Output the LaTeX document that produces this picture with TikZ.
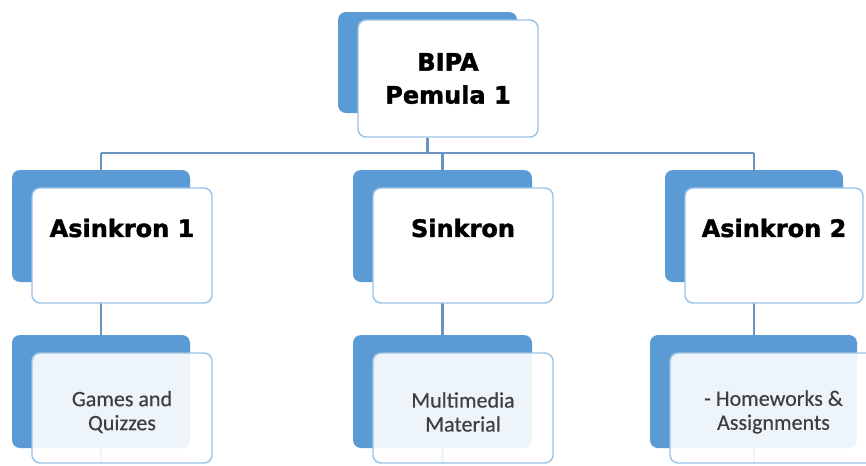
\documentclass[tikz,border=0pt]{standalone}
\usepackage{fontspec}
\usetikzlibrary{calc}
\newfontfamily\headfont{DejaVu Sans}[BoldFeatures={FakeBold=1.6}]
\newfontfamily\bodyfont{Carlito}[FakeBold=0.4]
\definecolor{backblue}{HTML}{5B9BD5}
\definecolor{edgeblue}{HTML}{9DC3E6}
\definecolor{linkblue}{HTML}{6A93C0}
\definecolor{bodygray}{HTML}{3F3F3F}
\begin{document}
\begin{tikzpicture}[x=0.75pt,y=-0.75pt,
  backbox/.style={draw=none,fill=backblue,rounded corners=6pt,inner sep=0pt},
  frontbox/.style={draw=edgeblue,line width=1.1pt,fill=white,rounded corners=6pt,inner sep=0pt},
  softbox/.style={frontbox,fill opacity=0.9},
  headtext/.style={font=\headfont\bfseries\fontsize{18}{24.75}\selectfont,text=black,align=center,inner sep=0pt},
  bodytext/.style={font=\bodyfont\fontsize{16.5}{18}\selectfont,text=bodygray,align=center,inner sep=0pt},
  link/.style={draw=linkblue,line width=1.6pt}]
\useasboundingbox[fill=white] (0,0) rectangle (866,465);

% top
\node[backbox,minimum width=134.25pt,minimum height=75.75pt] (b0) at (427.5,62.5) {};
\node[frontbox,minimum width=135pt,minimum height=87.75pt] (f0) at (448,78.5) {};
\node[headtext] (t0) at (f0.center) {BIPA\\Pemula 1};

% connectors (level 1 to level 2)
\coordinate (h0) at (b0.center |- 0,153);
\coordinate (hl) at (101,153);
\coordinate (hr) at (754,153);
\draw[link] (f0.south -| b0.center) -- (h0);
\draw[link] (hl) -- (hr);

% level 2 back boxes positions
\coordinate (c1) at (101,226);
\coordinate (c2) at (442.5,226);
\coordinate (c3) at (754,226);
\draw[link] (hl) -- (c1);
\draw[link] (c2 |- hl) -- (c2);
\draw[link] (hr) -- (c3);

% level 2 to level 3 connectors (drawn behind)
\coordinate (d1) at (101,463);
\coordinate (d2) at (442.5,463);
\coordinate (d3) at (754,463);
\draw[link] (c1) -- (d1);
\draw[link] (c2) -- (d2);
\draw[link] (c3) -- (d3);

% level 2
\node[backbox,minimum width=133.5pt,minimum height=84pt] (b1) at (c1) {};
\node[frontbox,minimum width=135pt,minimum height=86.25pt] (f1) at (122,245.5) {};
\node[headtext] (t1) at ($(f1.center)+(0,-17.5)$) {Asinkron 1};

\node[backbox,minimum width=134.25pt,minimum height=84pt] (b2) at (c2) {};
\node[frontbox,minimum width=135pt,minimum height=86.25pt] (f2) at (463,245.5) {};
\node[headtext] (t2) at ($(f2.center)+(0,-17.5)$) {Sinkron};

\node[backbox,minimum width=133.5pt,minimum height=84pt] (b3) at (c3) {};
\node[frontbox,minimum width=133.5pt,minimum height=86.25pt] (f3) at (774,245.5) {};
\node[headtext] (t3) at ($(f3.center)+(0,-17.5)$) {Asinkron 2};

% level 3
\node[backbox,minimum width=133.5pt,minimum height=84.75pt] (b4) at (101,391.5) {};
\node[softbox,minimum width=135pt,minimum height=82.5pt] (f4) at (122,408) {};
\node[bodytext] (t4) at ($(f4.center)+(0,4)$) {Games and\\Quizzes};

\node[backbox,minimum width=134.25pt,minimum height=84.75pt] (b5) at (442.5,391.5) {};
\node[softbox,minimum width=135pt,minimum height=82.5pt] (f5) at (463,408) {};
\node[bodytext] (t5) at ($(f5.center)+(0,4)$) {Multimedia\\Material};

\node[backbox,minimum width=155.25pt,minimum height=84.75pt] (b6) at (753.5,391.5) {};
\node[softbox,minimum width=155.25pt,minimum height=82.5pt] (f6) at (773.5,408) {};
\node[bodytext] (t6) at ($(f6.center)+(0,4)$) {- Homeworks \&\\Assignments};
\end{tikzpicture}
\end{document}
